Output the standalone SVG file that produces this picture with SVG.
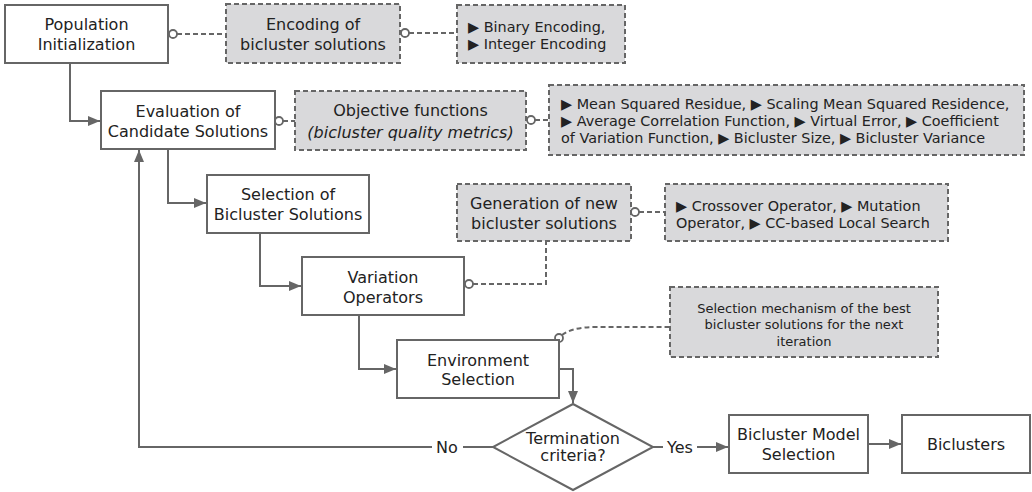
<svg xmlns="http://www.w3.org/2000/svg" width="1032" height="492" viewBox="0 0 1032 492">
<defs>
<style>
.box{fill:#fff;stroke:#666;stroke-width:2}
.note{fill:#d9d9db;stroke:#666;stroke-width:2;stroke-dasharray:5 3}
.t{font-family:"DejaVu Sans",Verdana,sans-serif;font-size:16px;fill:#222;text-anchor:middle}
.s{font-family:"DejaVu Sans",Verdana,sans-serif;font-size:14.4px;fill:#222}
.m{font-family:"DejaVu Sans",Verdana,sans-serif;font-size:13px;fill:#222;text-anchor:middle}
.c{fill:none;stroke:#666;stroke-width:2}
.d{fill:none;stroke:#666;stroke-width:2;stroke-dasharray:5 3}
.dot{fill:#fff;stroke:#666;stroke-width:1.8}
</style>
<marker id="ah" markerUnits="userSpaceOnUse" markerWidth="13" markerHeight="11" refX="12" refY="5" orient="auto">
<path d="M0,0 L12,5 L0,10 z" fill="#666"/>
</marker>
</defs>
<rect width="1032" height="492" fill="#fff"/>

<g id="connectors">
<path class="c" d="M70,63 V121 H100" marker-end="url(#ah)"/>
<path class="c" d="M168,149 V203 H206" marker-end="url(#ah)"/>
<path class="c" d="M260,233 V286 H301" marker-end="url(#ah)"/>
<path class="c" d="M359,315 V369 H396" marker-end="url(#ah)"/>
<path class="c" d="M559,369 H573 V403" marker-end="url(#ah)"/>
<path class="c" d="M493,447 H463"/>
<path class="c" d="M432,447 H139 V150" marker-end="url(#ah)"/>
<path class="c" d="M653,447 H663"/>
<path class="c" d="M697,447 H728" marker-end="url(#ah)"/>
<path class="c" d="M868,444 H901" marker-end="url(#ah)"/>
<text class="t" x="447" y="453">No</text>
<text class="t" x="680" y="453">Yes</text>

<path class="d" d="M177,34 H226"/>
<path class="d" d="M409,33 H457"/>
<path class="d" d="M283,121 H295"/>
<path class="d" d="M535,120 H549"/>
<path class="d" d="M473,284 H546 V241"/>
<path class="d" d="M639,212 H665"/>
<path class="d" d="M562,335 Q573,327 595,327 H670"/>
<circle class="dot" cx="173" cy="34" r="4"/>
<circle class="dot" cx="405" cy="33" r="4"/>
<circle class="dot" cx="279" cy="121" r="4"/>
<circle class="dot" cx="531" cy="120" r="4"/>
<circle class="dot" cx="469" cy="284" r="4"/>
<circle class="dot" cx="635" cy="212" r="4"/>
<circle class="dot" cx="559" cy="338" r="4"/>
</g>

<g id="pop">
<rect class="box" x="5" y="5" width="163" height="58"/>
<text class="t" x="86.5" y="30">Population</text>
<text class="t" x="86.5" y="50">Initialization</text>
</g>
<g id="encoding">
<rect class="note" x="226" y="4" width="174" height="59"/>
<text class="t" x="313" y="30">Encoding of</text>
<text class="t" x="313" y="49.5">bicluster solutions</text>
</g>
<g id="encoding-types">
<rect class="note" x="457" y="5" width="168" height="58"/>
<text class="s" x="468" y="32">▶ Binary Encoding,</text>
<text class="s" x="468" y="48.5">▶ Integer Encoding</text>
</g>
<g id="eval">
<rect class="box" x="101" y="91" width="174" height="58"/>
<text class="t" x="188" y="117">Evaluation of</text>
<text class="t" x="188" y="136.5">Candidate Solutions</text>
</g>
<g id="objective">
<rect class="note" x="295" y="91" width="231" height="59"/>
<text class="t" x="410.5" y="116">Objective functions</text>
<text class="t" x="410.5" y="137.5" font-style="italic">(bicluster quality metrics)</text>
</g>
<g id="metrics">
<rect class="note" x="549" y="85" width="475" height="70"/>
<text class="s" x="561" y="109">▶ Mean Squared Residue, ▶ Scaling Mean Squared Residence,</text>
<text class="s" x="561" y="126">▶ Average Correlation Function, ▶ Virtual Error, ▶ Coefficient</text>
<text class="s" x="561" y="142.5">of Variation Function, ▶ Bicluster Size, ▶ Bicluster Variance</text>
</g>
<g id="selection">
<rect class="box" x="207" y="175" width="162" height="58"/>
<text class="t" x="288" y="200">Selection of</text>
<text class="t" x="288" y="220">Bicluster Solutions</text>
</g>
<g id="generation">
<rect class="note" x="457" y="184" width="174" height="57"/>
<text class="t" x="544" y="208.5">Generation of new</text>
<text class="t" x="544" y="228.5">bicluster solutions</text>
</g>
<g id="operators">
<rect class="note" x="665" y="184" width="283" height="57"/>
<text class="s" x="676" y="211">▶ Crossover Operator, ▶ Mutation</text>
<text class="s" x="676" y="227.5">Operator, ▶ CC-based Local Search</text>
</g>
<g id="variation">
<rect class="box" x="302" y="257" width="162" height="58"/>
<text class="t" x="383" y="282.5">Variation</text>
<text class="t" x="383" y="302.5">Operators</text>
</g>
<g id="mechanism">
<rect class="note" x="670" y="287" width="268" height="70"/>
<text class="m" x="804" y="312.5">Selection mechanism of the best</text>
<text class="m" x="804" y="329">bicluster solutions for the next</text>
<text class="m" x="804" y="345.5">iteration</text>
</g>
<g id="environment">
<rect class="box" x="397" y="340" width="162" height="58"/>
<text class="t" x="478" y="365.5">Environment</text>
<text class="t" x="478" y="385">Selection</text>
</g>
<g id="termination">
<path class="box" d="M573,404 L653,447 L573,490 L493,447 Z"/>
<text class="t" x="573" y="444" font-size="14">Termination</text>
<text class="t" x="573" y="461" font-size="14">criteria?</text>
</g>
<g id="model">
<rect class="box" x="729" y="415" width="139" height="58"/>
<text class="t" x="798.5" y="439.5">Bicluster Model</text>
<text class="t" x="798.5" y="459.5">Selection</text>
</g>
<g id="biclusters">
<rect class="box" x="902" y="415" width="128" height="58"/>
<text class="t" x="966" y="449.5">Biclusters</text>
</g>
</svg>
